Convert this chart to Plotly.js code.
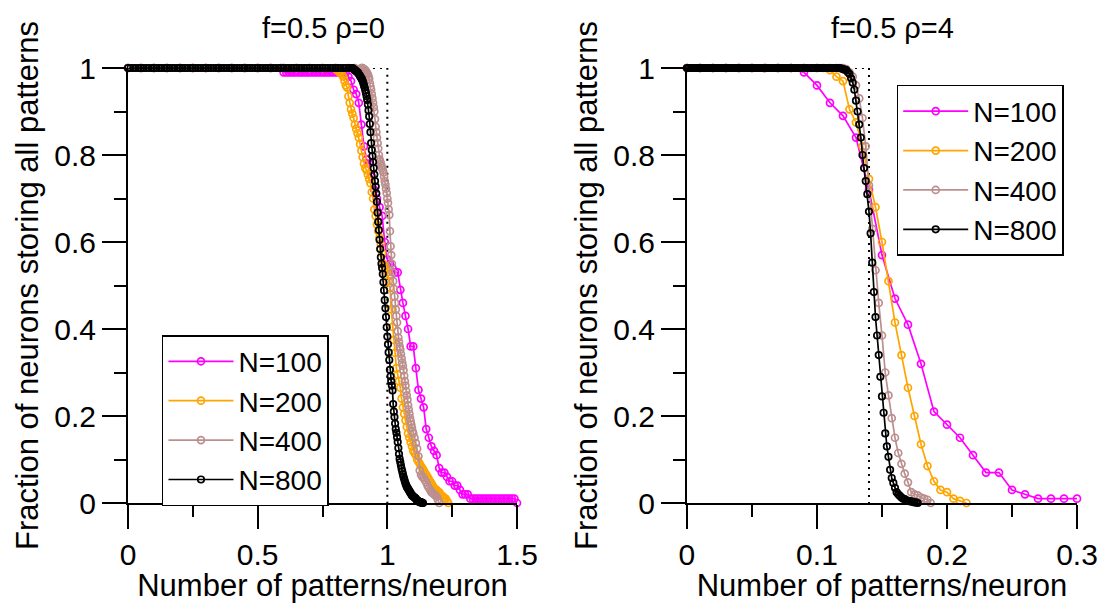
<!DOCTYPE html>
<html>
<head>
<meta charset="utf-8">
<script src="https://cdn.plot.ly/plotly-3.0.1.min.js"></script>
<style>html,body{margin:0;padding:0;background:#fff;}#chart{width:1105px;height:603px;}</style>
</head>
<body>
<div id="chart"></div>
<script>
// ---------- Panel titles, axis texts, legend labels ----------
const panelTitles = ["f=0.5 ρ=0", "f=0.5 ρ=4"];
const xTitle = "Number of patterns/neuron";
const yTitle = "Fraction of neurons storing all patterns";
const seriesNames = ["N=100", "N=200", "N=400", "N=800"];
const seriesColors = ["#ff00ff", "#ffa500", "#bc8f8f", "#000000"];

// ---------- Theoretical capacity (dotted step) ----------
const capLx = [0, 1, 1];
const capLy = [1, 1, 0];
const capRx = [0, 0.14, 0.14];
const capRy = [1, 1, 0];

// ---------- Left panel (rho = 0) ----------
const L100x = [0,0.05,0.1,0.15,0.2,0.25,0.3,0.35,0.4,0.45,0.5,0.55,0.59,
  0.6,0.61,0.62,0.63,0.64,0.65,0.66,0.67,0.68,0.69,
  0.7,0.71,0.72,0.73,0.74,0.75,0.76,0.77,0.78,0.79,
  0.8,0.81,0.82,0.83,0.84,0.85,0.86,0.87,0.88,0.89,
  0.9,0.91,0.92,0.93,0.94,0.95,0.96,0.97,0.98,0.99,
  1,1.01,1.02,1.03,1.04,1.05,1.06,1.07,1.08,1.09,
  1.1,1.11,1.12,1.13,1.14,1.15,1.16,1.17,1.18,1.19,
  1.2,1.21,1.22,1.23,1.24,1.25,1.26,1.27,1.28,1.29,
  1.3,1.31,1.32,1.33,1.34,1.35,1.36,1.37,1.38,1.39,
  1.4,1.41,1.42,1.43,1.44,1.45,1.46,1.47,1.48,1.49,1.5];
const L100y = [1,1,1,1,1,1,1,1,1,1,1,1,1,
  0.99,0.99,0.99,0.99,0.99,0.99,0.99,0.99,0.99,0.99,
  0.99,0.99,0.99,0.99,0.99,0.99,0.99,0.99,0.99,0.99,
  0.99,0.99,0.99,0.99,0.99,0.98,0.97,0.95,0.94,0.92,
  0.87,0.82,0.79,0.78,0.75,0.72,0.70,0.68,0.66,0.60,
  0.56,0.55,0.54,0.53,0.53,0.49,0.46,0.43,0.40,0.36,
  0.36,0.31,0.26,0.24,0.22,0.17,0.15,0.13,0.12,0.11,
  0.08,0.07,0.07,0.06,0.05,0.05,0.04,0.04,0.03,0.02,
  0.02,0.02,0.01,0.01,0.01,0.01,0.01,0.01,0.01,0.01,
  0.01,0.01,0.01,0.01,0.01,0.01,0.01,0.01,0.01,0.01,0];

const L200x = [0,0.05,0.1,0.15,0.2,0.25,0.3,0.35,0.4,0.45,0.5,0.55,0.6,0.65,0.7,0.75,
  0.8,0.805,0.81,0.815,0.82,0.825,0.83,0.835,0.84,0.845,
  0.85,0.855,0.86,0.865,0.87,0.875,0.88,0.885,0.89,0.895,
  0.9,0.905,0.91,0.915,0.92,0.925,0.93,0.935,0.94,0.945,
  0.95,0.955,0.96,0.965,0.97,0.975,0.98,0.985,0.99,0.995,
  1,1.005,1.01,1.015,1.02,1.025,1.03,1.035,1.04,1.045,
  1.05,1.055,1.06,1.065,1.07,1.075,1.08,1.085,1.09,1.095,
  1.1,1.105,1.11,1.115,1.12,1.125,1.13,1.135,1.14,1.145,
  1.15,1.155,1.16,1.165,1.17,1.175,1.18,1.185,1.19,1.195,
  1.2,1.205,1.21,1.215,1.22,1.225,1.23,1.235];
const L200y = [1,1,1,1,1,1,1,1,1,1,1,1,1,1,1,1,
  1,0.995,0.995,0.99,0.99,0.985,0.98,0.97,0.96,0.955,
  0.935,0.92,0.905,0.895,0.885,0.87,0.86,0.85,0.84,0.825,
  0.81,0.795,0.78,0.77,0.765,0.755,0.745,0.735,0.715,0.7,
  0.675,0.66,0.64,0.625,0.61,0.595,0.575,0.55,0.545,0.54,
  0.53,0.51,0.495,0.445,0.405,0.375,0.345,0.31,0.295,0.28,
  0.265,0.24,0.22,0.205,0.19,0.175,0.16,0.15,0.14,0.13,
  0.12,0.115,0.11,0.1,0.095,0.09,0.085,0.08,0.075,0.07,
  0.065,0.06,0.055,0.05,0.045,0.04,0.035,0.03,0.03,0.025,
  0.025,0.02,0.015,0.015,0.01,0.01,0.005,0];

const L400x = [0,0.05,0.1,0.15,0.2,0.25,0.3,0.35,0.4,0.45,0.5,0.55,0.6,0.65,0.7,0.75,0.8,0.85,0.875,
  0.9,0.9025,0.905,0.9075,0.91,0.9125,0.915,0.9175,0.92,0.9225,
  0.925,0.9275,0.93,0.9325,0.935,0.9375,0.94,0.9425,0.945,0.9475,
  0.95,0.9525,0.955,0.9575,0.96,0.9625,0.965,0.9675,0.97,0.9725,
  0.975,0.9775,0.98,0.9825,0.985,0.9875,0.99,0.9925,0.995,0.9975,
  1,1.0025,1.005,1.0075,1.01,1.0125,1.015,1.0175,1.02,1.0225,
  1.025,1.0275,1.03,1.0325,1.035,1.0375,1.04,1.0425,1.045,1.0475,
  1.05,1.0525,1.055,1.0575,1.06,1.0625,1.065,1.0675,1.07,1.0725,
  1.075,1.0775,1.08,1.0825,1.085,1.0875,1.09,1.0925,1.095,1.0975,
  1.1,1.105,1.11,1.115,1.12,1.125,1.13,1.135,1.14,1.145,
  1.15,1.155,1.16,1.165,1.17,1.175,1.18,1.185,1.19,1.195,1.2];
const L400y = [1,1,1,1,1,1,1,1,1,1,1,1,1,1,1,1,1,1,1,
  1,1,1,0.9975,0.9975,0.995,0.995,0.9925,0.99,0.9875,
  0.985,0.98,0.975,0.965,0.9575,0.95,0.94,0.93,0.92,0.91,
  0.9,0.8825,0.865,0.8525,0.84,0.8275,0.815,0.8,0.79,0.785,
  0.78,0.775,0.77,0.765,0.76,0.75,0.74,0.7325,0.7225,0.7125,
  0.7,0.69,0.675,0.6625,0.625,0.59,0.57,0.55,0.53,0.51,
  0.4925,0.475,0.46,0.445,0.43,0.415,0.395,0.38,0.37,0.36,
  0.3525,0.3425,0.3325,0.3225,0.315,0.305,0.2925,0.28,0.27,0.2575,
  0.2475,0.2375,0.225,0.215,0.205,0.195,0.1875,0.18,0.1725,0.165,
  0.16,0.15,0.1375,0.125,0.1075,0.075,0.065,0.06,0.0575,0.0525,
  0.0475,0.04,0.035,0.03,0.025,0.0225,0.02,0.0175,0.015,0.0075,0];

const L800x = [0,0.01,0.02,0.03,0.04,0.05,0.06,0.07,0.08,0.09,
  0.1,0.11,0.12,0.13,0.14,0.15,0.16,0.17,0.18,0.19,
  0.2,0.21,0.22,0.23,0.24,0.25,0.26,0.27,0.28,0.29,
  0.3,0.31,0.32,0.33,0.34,0.35,0.36,0.37,0.38,0.39,
  0.4,0.41,0.42,0.43,0.44,0.45,0.46,0.47,0.48,0.49,
  0.5,0.51,0.52,0.53,0.54,0.55,0.56,0.57,0.58,0.59,
  0.6,0.61,0.62,0.63,0.64,0.65,0.66,0.67,0.68,0.69,
  0.7,0.71,0.72,0.73,0.74,0.75,0.76,0.77,0.78,0.79,
  0.8,0.81,0.82,0.83,0.84,0.85,0.86,
  0.8625,0.865,0.8675,0.87,0.8725,0.875,0.8775,0.88,0.8825,0.885,
  0.8875,0.89,0.8925,0.895,0.8975,0.9,0.9025,0.905,0.9075,0.91,
  0.9125,0.915,0.9175,0.92,0.9225,0.925,0.9275,0.93,0.9325,0.935,
  0.9375,0.94,0.9425,0.945,0.9475,0.95,0.9525,0.955,0.9575,0.96,
  0.9625,0.965,0.9675,0.97,0.9725,0.975,0.9775,0.98,0.9825,0.985,
  0.9875,0.99,0.9925,0.995,0.9975,1,1.0025,1.005,1.0075,1.01,
  1.0125,1.015,1.0175,1.02,1.0225,1.025,1.0275,1.03,1.0325,1.035,
  1.0375,1.04,1.0425,1.045,1.0475,1.05,1.0525,1.055,1.0575,1.06,
  1.0625,1.065,1.0675,1.07,1.0725,1.075,1.0775,1.08,1.0825,1.085,
  1.0875,1.09,1.0925,1.095,1.0975,1.1,1.1025,1.105,1.1075,1.11,
  1.1125,1.115,1.1175,1.12,1.1225,1.125,1.1275,1.13,1.1325,1.135,
  1.1375];
const L800y = [1,1,1,1,1,1,1,1,1,1,
  1,1,1,1,1,1,1,1,1,1,
  1,1,1,1,1,1,1,1,1,1,
  1,1,1,1,1,1,1,1,1,1,
  1,1,1,1,1,1,1,1,1,1,
  1,1,1,1,1,1,1,1,1,1,
  1,1,1,1,1,1,1,1,1,1,
  1,1,1,1,1,1,1,1,1,1,
  1,1,1,1,1,1,1,
  1,1,0.99875,0.9975,0.99625,0.995,0.99375,0.9925,0.99125,0.99,
  0.98875,0.98625,0.98375,0.98125,0.97875,0.97625,0.97375,0.97,0.965,0.96,
  0.955,0.94875,0.9425,0.935,0.92625,0.91625,0.9025,0.88875,0.87125,0.8525,
  0.8275,0.81125,0.7975,0.78375,0.77,0.755,0.74,0.7275,0.71125,0.6925,
  0.6675,0.64625,0.6275,0.605,0.58375,0.565,0.55,0.54,0.52625,0.5075,
  0.48875,0.46625,0.4475,0.4275,0.40375,0.3825,0.365,0.34625,0.32875,0.30625,
  0.29125,0.28,0.27,0.25875,0.2275,0.21,0.1975,0.1825,0.17,0.16125,
  0.15125,0.14,0.12625,0.1125,0.10125,0.09375,0.08625,0.07875,0.0725,0.06625,
  0.06,0.055,0.05,0.045,0.04125,0.0375,0.035,0.0325,0.03,0.0275,
  0.025,0.0225,0.02,0.0175,0.01625,0.015,0.01375,0.0125,0.01125,0.01,
  0.0075,0.00625,0.005,0.00375,0.0025,0.0025,0.00125,0.00125,0.00125,0,
  0];

// ---------- Right panel (rho = 4) ----------
const R100x = [0,0.01,0.02,0.03,0.04,0.05,0.06,0.07,0.08,0.09,
  0.1,0.11,0.12,0.13,0.14,0.15,0.16,0.17,0.18,0.19,
  0.2,0.21,0.22,0.23,0.24,0.25,0.26,0.27,0.28,0.29,0.3];
const R100y = [1,1,1,1,1,1,1,1,1,0.99,
  0.96,0.92,0.89,0.84,0.72,0.57,0.47,0.41,0.32,0.21,
  0.18,0.15,0.11,0.07,0.07,0.03,0.02,0.01,0.01,0.01,0.01];

const R200x = [0,0.01,0.02,0.03,0.04,0.05,0.06,0.07,0.08,0.09,0.1,
  0.105,0.11,0.115,0.12,0.125,0.13,0.135,0.14,0.145,0.15,
  0.155,0.16,0.165,0.17,0.175,0.18,0.185,0.19,0.195,0.2,
  0.205,0.21,0.215];
const R200y = [1,1,1,1,1,1,1,1,1,1,1,
  1,0.995,0.98,0.97,0.905,0.875,0.82,0.745,0.68,0.6,
  0.51,0.415,0.34,0.265,0.2,0.135,0.085,0.05,0.03,0.025,
  0.01,0.005,0];

const R400x = [0,0.01,0.02,0.03,0.04,0.05,0.06,0.07,0.08,0.09,0.1,0.11,
  0.115,0.1175,0.12,0.1225,0.125,0.1275,0.13,0.1325,0.135,0.1375,
  0.14,0.1425,0.145,0.1475,0.15,0.1525,0.155,0.1575,0.16,0.1625,
  0.165,0.1675,0.17,0.1725,0.175,0.1775,0.18,0.1825,0.185,0.1875];
const R400y = [1,1,1,1,1,1,1,1,1,1,1,1,
  1,1,1,0.9975,0.99,0.98,0.96,0.93,0.885,0.82,
  0.73,0.63,0.535,0.46,0.385,0.3,0.2475,0.195,0.15,0.115,
  0.09,0.0675,0.0475,0.025,0.02,0.0175,0.0125,0.01,0.0075,0];

const R800x = [0,0.00125,0.0025,0.00375,0.005,0.00625,0.0075,0.00875,0.01,0.01125,
  0.0125,0.01375,0.015,0.01625,0.0175,0.01875,0.02,0.02125,0.0225,0.02375,
  0.025,0.02625,0.0275,0.02875,0.03,0.03125,0.0325,0.03375,0.035,0.03625,
  0.0375,0.03875,0.04,0.04125,0.0425,0.04375,0.045,0.04625,0.0475,0.04875,
  0.05,0.05125,0.0525,0.05375,0.055,0.05625,0.0575,0.05875,0.06,0.06125,
  0.0625,0.06375,0.065,0.06625,0.0675,0.06875,0.07,0.07125,0.0725,0.07375,
  0.075,0.07625,0.0775,0.07875,0.08,0.08125,0.0825,0.08375,0.085,0.08625,
  0.0875,0.08875,0.09,0.09125,0.0925,0.09375,0.095,0.09625,0.0975,0.09875,
  0.1,0.10125,0.1025,0.10375,0.105,0.10625,0.1075,0.10875,0.11,0.11125,
  0.1125,0.11375,0.115,0.11625,0.1175,
  0.11875,0.12,0.12125,0.1225,0.12375,0.125,0.12625,0.1275,0.12875,0.13,
  0.13125,0.1325,0.13375,0.135,0.13625,0.1375,0.13875,0.14,0.14125,0.1425,
  0.14375,0.145,0.14625,0.1475,0.14875,0.15,0.15125,0.1525,0.15375,0.155,
  0.15625,0.1575,0.15875,0.16,0.16125,0.1625,0.16375,0.165,0.16625,0.1675,
  0.16875,0.17,0.17125,0.1725,0.17375,0.175,0.17625,0.1775];
const R800y = [1,1,1,1,1,1,1,1,1,1,
  1,1,1,1,1,1,1,1,1,1,
  1,1,1,1,1,1,1,1,1,1,
  1,1,1,1,1,1,1,1,1,1,
  1,1,1,1,1,1,1,1,1,1,
  1,1,1,1,1,1,1,1,1,1,
  1,1,1,1,1,1,1,1,1,1,
  1,1,1,1,1,1,1,1,1,1,
  1,1,1,1,1,1,1,1,1,1,
  1,1,1,1,1,
  0.99875,0.9975,0.99625,0.995,0.99,0.98625,0.97625,0.96625,0.95,0.925,
  0.9,0.87,0.84,0.8,0.77,0.74,0.71,0.67,0.62,0.5525,
  0.485,0.4275,0.385,0.34,0.29,0.245,0.2075,0.16,0.13,0.10625,
  0.07625,0.0575,0.04625,0.035,0.025,0.02,0.01625,0.0125,0.01,0.00875,
  0.00625,0.005,0.00375,0.00375,0.0025,0.00125,0.00125,0];

// ---------- Build traces ----------
const FONT = "Liberation Sans, Arial, Helvetica, sans-serif";
const leftData = [[L100x, L100y], [L200x, L200y], [L400x, L400y], [L800x, L800y]];
const rightData = [[R100x, R100y], [R200x, R200y], [R400x, R400y], [R800x, R800y]];

function capTrace(x, y, xa, ya) {
  return {x: x, y: y, xaxis: xa, yaxis: ya, type: "scatter", mode: "lines",
    line: {color: "#000", width: 2, dash: "2px,5px"}, showlegend: false,
    hoverinfo: "skip", cliponaxis: false};
}
function seriesTrace(d, i, xa, ya, leg) {
  return {x: d[0], y: d[1], xaxis: xa, yaxis: ya, legend: leg, type: "scatter",
    mode: "lines+markers", name: seriesNames[i], cliponaxis: false,
    line: {color: seriesColors[i], width: 1.7},
    marker: {symbol: "circle-open", size: i === 3 ? 6.5 : 7, color: seriesColors[i],
      line: {width: 1.7, color: seriesColors[i]}}};
}
const traces = [capTrace(capLx, capLy, "x", "y"), capTrace(capRx, capRy, "x2", "y2")];
leftData.forEach((d, i) => traces.push(seriesTrace(d, i, "x", "y", "legend")));
rightData.forEach((d, i) => traces.push(seriesTrace(d, i, "x2", "y2", "legend2")));

function xAxis(domain, range, dtick, minorDtick, anchor) {
  return {domain: domain, range: range, anchor: anchor, tick0: 0, dtick: dtick,
    showline: true, linecolor: "#000", linewidth: 2, mirror: false,
    ticks: "outside", ticklen: 24, tickwidth: 2, tickcolor: "#000",
    minor: {dtick: minorDtick, tick0: 0, ticks: "outside", ticklen: 12, tickwidth: 2, tickcolor: "#000", showgrid: false},
    showgrid: false, zeroline: false, fixedrange: true,
    tickfont: {family: FONT, size: 30, color: "#000"},
    title: {text: xTitle, font: {family: FONT, size: 31, color: "#000"}, standoff: 6}};
}
function yAxis(anchor) {
  return {domain: [0, 1], range: [0, 1], anchor: anchor, tick0: 0, dtick: 0.2,
    showline: true, linecolor: "#000", linewidth: 2, mirror: false,
    ticks: "outside", ticklen: 24, tickwidth: 2, tickcolor: "#000",
    minor: {dtick: 0.1, tick0: 0, ticks: "outside", ticklen: 12, tickwidth: 2, tickcolor: "#000", showgrid: false},
    showgrid: false, zeroline: false, fixedrange: true,
    tickfont: {family: FONT, size: 30, color: "#000"},
    title: {text: yTitle, font: {family: FONT, size: 31, color: "#000"}, standoff: 6}};
}
const legendBase = {bgcolor: "#fff", bordercolor: "#000", borderwidth: 1.5,
  font: {family: FONT, size: 28, color: "#000"}, itemwidth: 65,
  xanchor: "left", yanchor: "top", tracegroupgap: 0};

const layout = {
  width: 1105, height: 603,
  margin: {l: 128, r: 28, t: 68, b: 100},
  paper_bgcolor: "#fff", plot_bgcolor: "#fff",
  font: {family: FONT, color: "#000"},
  xaxis: xAxis([0, 0.4099], [0, 1.5], 0.5, 0.25, "y"),
  yaxis: yAxis("x"),
  xaxis2: xAxis([0.589, 1], [0, 0.3], 0.1, 0.05, "y2"),
  yaxis2: yAxis("x2"),
  legend: Object.assign({x: 0.0358, y: 0.386}, legendBase),
  legend2: Object.assign({x: 0.81, y: 0.961}, legendBase),
  annotations: [
    {text: panelTitles[0], xref: "paper", yref: "paper", x: 0.206, y: 1.092,
      xanchor: "center", yanchor: "middle", showarrow: false, font: {family: FONT, size: 29, color: "#000"}},
    {text: panelTitles[1], xref: "paper", yref: "paper", x: 0.806, y: 1.092,
      xanchor: "center", yanchor: "middle", showarrow: false, font: {family: FONT, size: 29, color: "#000"}}
  ],
  showlegend: true
};

Plotly.newPlot("chart", traces, layout, {displayModeBar: false, staticPlot: true});
</script>
</body>
</html>
